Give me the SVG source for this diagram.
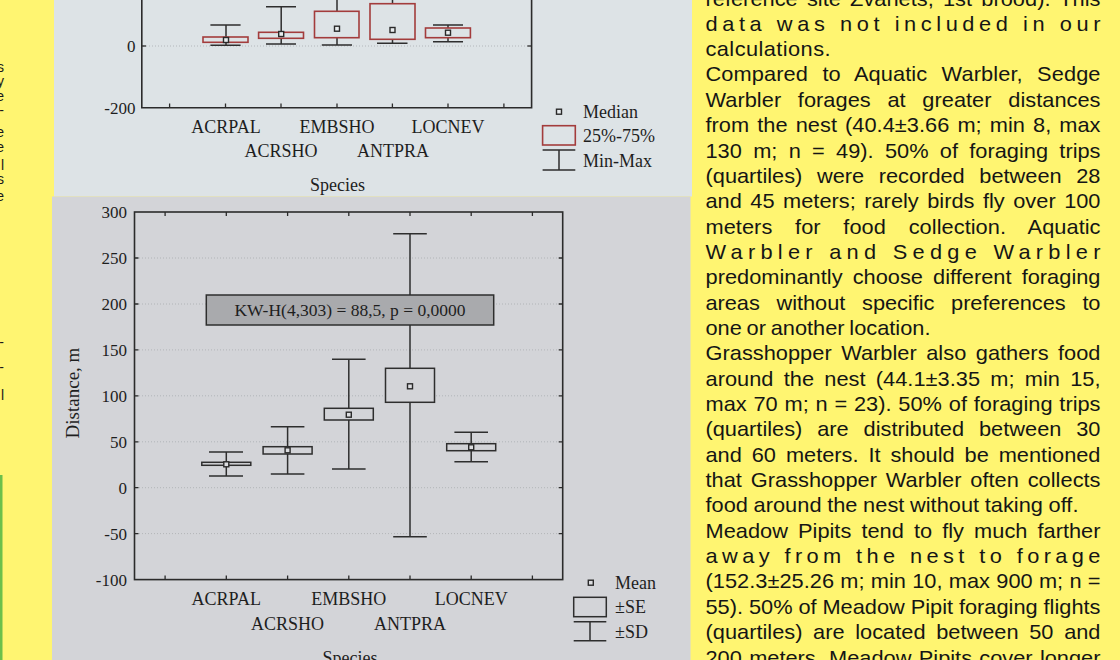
<svg xmlns="http://www.w3.org/2000/svg" width="1120" height="660" viewBox="0 0 1120 660">
<style>
.ax{stroke:#2b2b2b;stroke-width:1.6;fill:none}
.tk{stroke:#2b2b2b;stroke-width:1.3}
.wh{stroke:#2e2e2e;stroke-width:1.5;fill:none}
.bxr{fill:#dde3e6;stroke:#a33c3c;stroke-width:1.6}
.bxg{fill:#d3d4d8;stroke:#2e2e2e;stroke-width:1.5}
.mt{fill:#e9edef;stroke:#2a2a2a;stroke-width:1.4}
.mb{fill:#dcdde0;stroke:#2a2a2a;stroke-width:1.4}
.grid{stroke:#a9acb0;stroke-width:0.8;stroke-dasharray:1 2}
.lbl{font-family:"Liberation Serif","Times New Roman",serif;font-size:18px;fill:#1e1e1e}
.yl{font-family:"Liberation Serif","Times New Roman",serif;font-size:17px;fill:#1e1e1e;text-anchor:end}
.c{text-anchor:middle}
.body{font-family:"Liberation Sans",Arial,sans-serif;font-size:20px;fill:#151515}
.frag{font-family:"Liberation Sans",Arial,sans-serif;font-size:14px;fill:#1a1a1a;text-anchor:end}
</style>
<rect x="0" y="0" width="1120" height="660" fill="#fff571"/>
<rect x="0" y="475" width="2.5" height="185" fill="#6cc04a"/>
<g id="left-fragments">
<text class="frag" x="4" y="72">s</text>
<text class="frag" x="4" y="85.5">y</text>
<text class="frag" x="4" y="100.5">e</text>
<text class="frag" x="4" y="114.5">-</text>
<text class="frag" x="4" y="136.5">e</text>
<text class="frag" x="4" y="151.5">e</text>
<text class="frag" x="4" y="170">l</text>
<text class="frag" x="4" y="183.5">s</text>
<text class="frag" x="4" y="200.5">e</text>
<text class="frag" x="4" y="346.5">-</text>
<text class="frag" x="4" y="371.5">-</text>
<text class="frag" x="4" y="400">l</text>
</g>
<g id="top-chart">
<rect x="54" y="0" width="638" height="196.5" fill="#dde3e6"/>
<line class="grid" x1="143" y1="46" x2="530" y2="46"/>
<path class="ax" d="M141.8,-5 V107.7 H531.6 V-5"/>
<g class="tk">
<line x1="141.8" y1="46" x2="146" y2="46"/><line x1="531.6" y1="46" x2="527.4" y2="46"/>
<line x1="169.6" y1="107.7" x2="169.6" y2="103.5"/><line x1="225.5" y1="107.7" x2="225.5" y2="103.5"/>
<line x1="281" y1="107.7" x2="281" y2="103.5"/><line x1="337" y1="107.7" x2="337" y2="103.5"/>
<line x1="392.4" y1="107.7" x2="392.4" y2="103.5"/><line x1="448" y1="107.7" x2="448" y2="103.5"/>
<line x1="503.9" y1="107.7" x2="503.9" y2="103.5"/>
</g>
<text class="yl" x="135.5" y="52">0</text>
<text class="yl" x="135.5" y="114">-200</text>
<g id="t-acrpal">
<path class="wh" d="M226,25 V45.3 M210.4,25 H240.6 M210.4,45.3 H240.6"/>
<rect class="bxr" x="203" y="37" width="45" height="5.3"/>
<rect class="mt" x="223.5" y="37.5" width="5" height="5"/>
</g>
<g id="t-acrsho">
<path class="wh" d="M281.2,6.7 V44 M266,6.7 H296 M266,44 H296"/>
<rect class="bxr" x="258.6" y="32.3" width="44.9" height="6"/>
<rect class="mt" x="278.7" y="31.5" width="5" height="5"/>
</g>
<g id="t-embsho">
<path class="wh" d="M337,-10 V45 M321.8,45 H352"/>
<rect class="bxr" x="314.5" y="11.3" width="44.5" height="26.4"/>
<rect class="mt" x="334.5" y="26.2" width="5" height="5"/>
</g>
<g id="t-antpra">
<path class="wh" d="M392.5,-10 V43.3 M377,43.3 H407.5"/>
<rect class="bxr" x="370" y="3.7" width="45" height="35.6"/>
<rect class="mt" x="390" y="27.5" width="5" height="5"/>
</g>
<g id="t-locnev">
<path class="wh" d="M448,25 V41.7 M433,25 H463 M433,41.7 H463"/>
<rect class="bxr" x="425.5" y="28" width="44.9" height="9.7"/>
<rect class="mt" x="445.5" y="30.2" width="5" height="5"/>
</g>
<text class="lbl c" x="226" y="133">ACRPAL</text>
<text class="lbl c" x="337" y="133">EMBSHO</text>
<text class="lbl c" x="448" y="133">LOCNEV</text>
<text class="lbl c" x="281" y="157">ACRSHO</text>
<text class="lbl c" x="393" y="157">ANTPRA</text>
<text class="lbl c" x="337.5" y="191">Species</text>
<g id="t-legend">
<rect class="mt" x="556.5" y="109.2" width="5" height="5"/>
<text class="lbl" x="583" y="118">Median</text>
<rect class="bxr" x="542.6" y="125.7" width="32.7" height="19.3"/>
<text class="lbl" x="583" y="142">25%-75%</text>
<path class="wh" d="M559,150 V170 M542.6,150 H575.3 M542.6,170 H575.3"/>
<text class="lbl" x="583" y="167">Min-Max</text>
</g>
</g>
<g id="bottom-chart">
<rect x="52" y="196.5" width="638.5" height="463.5" fill="#d3d4d8"/>
<g class="grid">
<line x1="136" y1="258" x2="561" y2="258"/>
<line x1="136" y1="304" x2="561" y2="304"/>
<line x1="136" y1="349.9" x2="561" y2="349.9"/>
<line x1="136" y1="395.8" x2="561" y2="395.8"/>
<line x1="136" y1="441.8" x2="561" y2="441.8"/>
<line x1="136" y1="487.7" x2="561" y2="487.7"/>
<line x1="136" y1="533.6" x2="561" y2="533.6"/>
</g>
<rect class="ax" x="134.5" y="212" width="428.2" height="367.6"/>
<g class="tk">
<path d="M134.5,258 h4 M134.5,304 h4 M134.5,349.9 h4 M134.5,395.8 h4 M134.5,441.8 h4 M134.5,487.7 h4 M134.5,533.6 h4"/>
<path d="M562.7,258 h-4 M562.7,304 h-4 M562.7,349.9 h-4 M562.7,395.8 h-4 M562.7,441.8 h-4 M562.7,487.7 h-4 M562.7,533.6 h-4"/>
<path d="M165.1,212 v4 M226.3,212 v4 M287.6,212 v4 M348.8,212 v4 M410,212 v4 M471.2,212 v4 M532.4,212 v4"/>
<path d="M165.1,579.6 v-4 M226.3,579.6 v-4 M287.6,579.6 v-4 M348.8,579.6 v-4 M410,579.6 v-4 M471.2,579.6 v-4 M532.4,579.6 v-4"/>
</g>
<text class="yl" x="127" y="218">300</text>
<text class="yl" x="127" y="264">250</text>
<text class="yl" x="127" y="310">200</text>
<text class="yl" x="127" y="356">150</text>
<text class="yl" x="127" y="402">100</text>
<text class="yl" x="127" y="448">50</text>
<text class="yl" x="127" y="494">0</text>
<text class="yl" x="127" y="540">-50</text>
<text class="yl" x="127" y="586">-100</text>
<text class="lbl c" transform="translate(79 393) rotate(-90)" style="font-size:19px">Distance, m</text>
<g id="b-acrpal">
<path class="wh" d="M226.3,452 V476 M209,452 H243 M209,476 H243"/>
<rect class="bxg" x="201.8" y="462.3" width="49" height="3"/>
<rect class="mb" x="223.8" y="461.8" width="5" height="5"/>
</g>
<g id="b-acrsho">
<path class="wh" d="M287.6,426.7 V474 M270.8,426.7 H304.4 M270.8,474 H304.4"/>
<rect class="bxg" x="263.1" y="446.7" width="49" height="7.3"/>
<rect class="mb" x="285.1" y="447.8" width="5" height="5"/>
</g>
<g id="b-embsho">
<path class="wh" d="M348.8,359.3 V469 M332,359.3 H365.6 M332,469 H365.6"/>
<rect class="bxg" x="324.3" y="408.3" width="49" height="11.7"/>
<rect class="mb" x="346.3" y="412.2" width="5" height="5"/>
</g>
<g id="b-antpra">
<path class="wh" d="M410,233.7 V536.7 M393.2,233.7 H426.8 M393.2,536.7 H426.8"/>
<rect class="bxg" x="385.5" y="368.3" width="49" height="34"/>
<rect class="mb" x="407.5" y="383.8" width="5" height="5"/>
</g>
<g id="b-locnev">
<path class="wh" d="M471.2,432.3 V461.7 M454.4,432.3 H488 M454.4,461.7 H488"/>
<rect class="bxg" x="446.7" y="443.7" width="49" height="7"/>
<rect class="mb" x="468.7" y="444.8" width="5" height="5"/>
</g>
<g id="kw-box">
<rect x="206.3" y="295" width="287.4" height="30" fill="#a9aaad" stroke="#2e2e2e" stroke-width="1.5"/>
<text class="lbl c" x="350" y="316" style="font-size:17.5px">KW-H(4,303) = 88,5, p = 0,0000</text>
</g>
<text class="lbl c" x="226.3" y="605">ACRPAL</text>
<text class="lbl c" x="348.8" y="605">EMBSHO</text>
<text class="lbl c" x="471.2" y="605">LOCNEV</text>
<text class="lbl c" x="287.6" y="630">ACRSHO</text>
<text class="lbl c" x="410" y="630">ANTPRA</text>
<text class="lbl c" x="350" y="664">Species</text>
<g id="b-legend">
<rect class="mb" x="588.3" y="580.2" width="5" height="5"/>
<text class="lbl" x="615" y="589">Mean</text>
<rect class="bxg" x="573.7" y="597.3" width="32.6" height="19.4"/>
<text class="lbl" x="615" y="613">±SE</text>
<path class="wh" d="M590,621.7 V640.7 M573.7,621.7 H606.3 M573.7,640.7 H606.3"/>
<text class="lbl" x="615" y="638">±SD</text>
</g>
</g>
<g id="right-text" class="body" transform="translate(705.5 0) scale(1.09 1)">
<text x="0" y="5.5" word-spacing="2.9" textLength="362.4" lengthAdjust="spacing">reference site Zvanets, 1st brood). This</text>
<text x="0" y="30.8" textLength="362.4" lengthAdjust="spacing">data was not included in our</text>
<text x="0" y="56.2" textLength="114.7" lengthAdjust="spacing">calculations.</text>
<text x="0" y="81.5" word-spacing="7.5" textLength="362.4" lengthAdjust="spacing">Compared to Aquatic Warbler, Sedge</text>
<text x="0" y="106.9" word-spacing="9.7" textLength="362.4" lengthAdjust="spacing">Warbler forages at greater distances</text>
<text x="0" y="132.2" word-spacing="1.83" textLength="362.4" lengthAdjust="spacing">from the nest (40.4±3.66 m; min 8, max</text>
<text x="0" y="157.6" word-spacing="4.8" textLength="362.4" lengthAdjust="spacing">130 m; n = 49). 50% of foraging trips</text>
<text x="0" y="182.9" word-spacing="7.8" textLength="362.4" lengthAdjust="spacing">(quartiles) were recorded between 28</text>
<text x="0" y="208.3" word-spacing="2.23" textLength="362.4" lengthAdjust="spacing">and 45 meters; rarely birds fly over 100</text>
<text x="0" y="233.6" word-spacing="15.3" textLength="362.4" lengthAdjust="spacing">meters for food collection. Aquatic</text>
<text x="0" y="259" textLength="362.4" lengthAdjust="spacing">Warbler and Sedge Warbler</text>
<text x="0" y="284.3" word-spacing="3.7" textLength="362.4" lengthAdjust="spacing">predominantly choose different foraging</text>
<text x="0" y="309.7" word-spacing="9.95" textLength="362.4" lengthAdjust="spacing">areas without specific preferences to</text>
<text x="0" y="335" word-spacing="-1.2" textLength="206.4" lengthAdjust="spacing">one or another location.</text>
<text x="0" y="360.4" word-spacing="3.1" textLength="362.4" lengthAdjust="spacing">Grasshopper Warbler also gathers food</text>
<text x="0" y="385.7" word-spacing="3.8" textLength="362.4" lengthAdjust="spacing">around the nest (44.1±3.35 m; min 15,</text>
<text x="0" y="411.1" word-spacing="0.68" textLength="362.4" lengthAdjust="spacing">max 70 m; n = 23). 50% of foraging trips</text>
<text x="0" y="436.4" word-spacing="8.1" textLength="362.4" lengthAdjust="spacing">(quartiles) are distributed between 30</text>
<text x="0" y="461.8" word-spacing="3.5" textLength="362.4" lengthAdjust="spacing">and 60 meters. It should be mentioned</text>
<text x="0" y="487.1" word-spacing="2.5" textLength="362.4" lengthAdjust="spacing">that Grasshopper Warbler often collects</text>
<text x="0" y="512.5" word-spacing="-0.4" textLength="342.2" lengthAdjust="spacing">food around the nest without taking off.</text>
<text x="0" y="537.8" word-spacing="3.7" textLength="362.4" lengthAdjust="spacing">Meadow Pipits tend to fly much farther</text>
<text x="0" y="563.2" textLength="362.4" lengthAdjust="spacing">away from the nest to forage</text>
<text x="0" y="588.5" word-spacing="0.14" textLength="362.4" lengthAdjust="spacing">(152.3±25.26 m; min 10, max 900 m; n =</text>
<text x="0" y="613.9" word-spacing="-0.18" textLength="362.4" lengthAdjust="spacing">55). 50% of Meadow Pipit foraging flights</text>
<text x="0" y="639.2" word-spacing="4.2" textLength="362.4" lengthAdjust="spacing">(quartiles) are located between 50 and</text>
<text x="0" y="664.6" word-spacing="1.1" textLength="362.4" lengthAdjust="spacing">200 meters. Meadow Pipits cover longer</text>
</g>
</svg>
